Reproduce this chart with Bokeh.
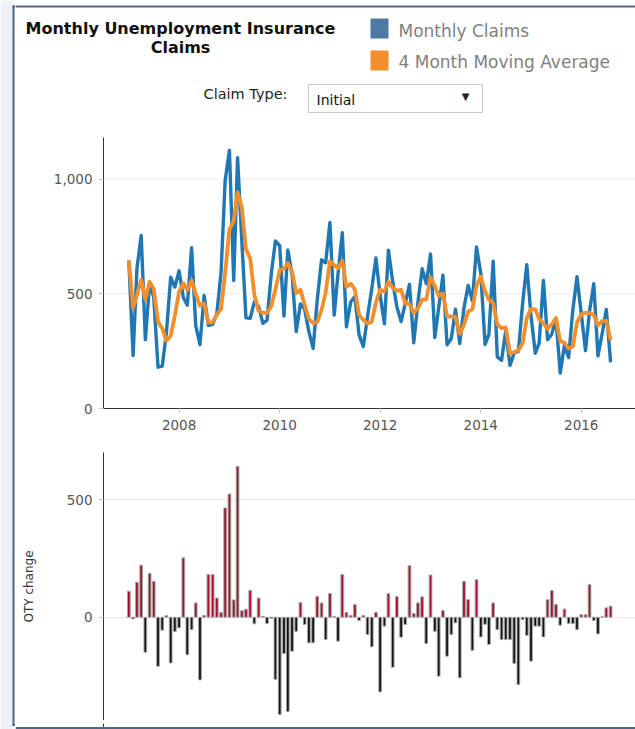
import pandas as pd
from bokeh.plotting import figure
from bokeh.layouts import row, column
from bokeh.models import (Range1d, ColumnDataSource, FixedTicker, NumeralTickFormatter,
                          DatetimeTickFormatter)
from bokeh.core.properties import value
from bokeh.embed import file_html
from bokeh.resources import INLINE

# ---------------- data ----------------
months = pd.date_range("2007-01-01", periods=116, freq="MS")

monthly_claims = [
    645, 231, 610, 754, 300, 545, 485, 180, 185, 330, 572, 529,
    600, 484, 450, 701, 361, 278, 493, 362, 367, 412, 592, 995,
    1125, 558, 1093, 729, 395, 393, 465, 444, 371, 385, 587, 730,
    710, 403, 691, 584, 335, 456, 434, 335, 262, 474, 648, 635,
    811, 407, 589, 766, 356, 464, 488, 321, 270, 400, 522, 656,
    493, 369, 690, 553, 444, 379, 457, 541, 286, 461, 609, 544,
    673, 309, 439, 581, 278, 305, 433, 283, 439, 536, 468, 704,
    589, 279, 323, 642, 225, 210, 338, 188, 242, 249, 458, 627,
    402, 241, 285, 558, 300, 324, 392, 154, 277, 222, 431, 574,
    413, 252, 424, 544, 229, 326, 432, 201,
]

moving_average = [
    645, 438, 495, 560, 474, 552, 521, 378, 349, 295, 317, 404,
    508, 546, 516, 559, 499, 448, 458, 374, 375, 409, 433, 592,
    781, 818, 943, 876, 694, 653, 496, 424, 418, 416, 447, 518,
    603, 608, 634, 597, 503, 517, 452, 390, 372, 376, 430, 505,
    642, 625, 611, 643, 530, 544, 519, 407, 386, 370, 378, 462,
    518, 510, 552, 526, 514, 517, 458, 455, 416, 436, 474, 475,
    572, 534, 491, 501, 402, 401, 399, 325, 365, 423, 432, 537,
    574, 510, 474, 458, 367, 350, 354, 240, 245, 254, 284, 394,
    434, 432, 389, 372, 346, 367, 394, 293, 287, 261, 271, 376,
    410, 418, 416, 408, 362, 381, 383, 297,
]

oty_change = [
    111, -7, 149, 222, -149, 187, 153, -209, -55, 7, -195, -61,
    -45, 253, -160, -53, 61, -267, 8, 182, 182, 82, 20, 466,
    525, 74, 643, 28, 34, 115, -28, 82, 4, -27, -5, -265,
    -415, -155, -402, -145, -60, 63, -31, -109, -109, 89, 61, -95,
    101, 4, -102, 182, 21, 8, 54, -14, 8, -74, -126, 21,
    -318, -38, 101, -213, 88, -85, -31, 220, 16, 61, 87, -112,
    180, -60, -251, 28, -166, -74, -24, -258, 153, 75, -141, 160,
    -84, -30, -116, 61, -53, -95, -95, -95, -197, -287, -10, -77,
    -187, -38, -38, -84, 75, 114, 54, -34, 35, -27, -27, -53,
    11, 11, 139, -14, -71, 2, 40, 47,
]

year_ticks = [2008, 2010, 2012, 2014, 2016]
claims_ticks = [0, 500, 1000]
change_ticks = [0, 500]

# ---------------- styles ----------------
BLUE_LINE = "#1f77b4"
ORANGE_LINE = "#f28e2b"
BLUE_KEY = "#4e79a7"
ORANGE_KEY = "#f28e2b"
RED_BAR = "#a50f2d"
BLACK_BAR = "#111111"
FRAME = "#4a6785"
PAD = "#eef2f6"
FONT = "DejaVu Sans"
TICK_GREY = "#555555"

src = ColumnDataSource(dict(
    month=months,
    claims=monthly_claims,
    avg=moving_average,
    oty=oty_change,
    color=[RED_BAR if v > 0 else BLACK_BAR for v in oty_change],
))

x_range = Range1d(pd.Timestamp("2006-07-01"), pd.Timestamp("2017-01-29"))
tick_ms = [pd.Timestamp(f"{y}-01-01").value // 10**6 for y in year_ticks]

LEFT = 88   # canvas space left of every chart frame (frames start at page x 103)
W = 620     # width of the main column (page x 15..635)
BORDER_Y = (723.5, 725.5)


def base(w, h, **kw):
    p = figure(width=w, height=h, title=None, output_backend="svg", toolbar_location=None,
               tools="", **kw)
    p.outline_line_color = None
    p.background_fill_color = "white"
    p.border_fill_color = "white"
    p.min_border = 0
    return p


def deco(w, h, x0=0.0, y0=0.0):
    # decoration canvas whose coordinates are page pixels (y downwards)
    p = base(w, h, x_range=Range1d(x0, x0 + w), y_range=Range1d(y0 + h, y0),
             x_axis_location=None, y_axis_location=None)
    p.grid.visible = False
    return p


def txt(p, x, y, s, size, color, align="left", bold=False):
    p.text(x=[x], y=[y], text=[s], text_font=value(FONT), text_font_size=size,
           text_font_style="bold" if bold else "normal", text_color=color,
           text_align=align, text_baseline="middle")


# ---------------- left strip (page x 0..15, full height) ----------------
strip = deco(15, 729)
strip.quad(left=0, right=12, top=0, bottom=729, fill_color=PAD, line_color=None)
strip.quad(left=12, right=14, top=5, bottom=BORDER_Y[1], fill_color=FRAME, line_color=None)
strip.quad(left=12, right=15, top=5, bottom=7, fill_color=FRAME, line_color=None)
strip.quad(left=12, right=15, top=BORDER_Y[0], bottom=BORDER_Y[1], fill_color=FRAME, line_color=None)

# ---------------- header (page x 15..635, y 0..130) ----------------
hdr = deco(W, 130, x0=15)
hdr.quad(left=15, right=635, top=5, bottom=7, fill_color=FRAME, line_color=None)

txt(hdr, 180, 28, "Monthly Unemployment Insurance", "16px", "#111111", "center", True)
txt(hdr, 180, 47, "Claims", "16px", "#111111", "center", True)

hdr.quad(left=[370, 370], right=[388, 388], top=[18, 50], bottom=[38, 70],
         fill_color=[BLUE_KEY, ORANGE_KEY], line_color=None)
txt(hdr, 398, 30, "Monthly Claims", "17px", "#7f7f7f")
txt(hdr, 398, 61, "4 Month Moving Average", "17px", "#7f7f7f")

txt(hdr, 287, 93, "Claim Type:", "14.5px", "#222222", "right")
hdr.quad(left=308, right=482, top=84, bottom=112, fill_color="white", line_color="#c8c8c8")
txt(hdr, 316, 99, "Initial", "14px", "#111111")
txt(hdr, 465, 96, "\u25bc", "10px", "#222222", "center")

# ---------------- top chart (page y 130..440) ----------------
p1 = base(W, 310, x_axis_type="datetime", x_range=x_range, y_range=Range1d(0, 1181))
p1.min_border_left = LEFT
p1.min_border_top = 7
p1.min_border_bottom = 32
p1.min_border_right = 0
p1.line(x="month", y="claims", source=src, line_color=BLUE_LINE, line_width=3.4, line_join="round")
p1.line(x="month", y="avg", source=src, line_color=ORANGE_LINE, line_width=3.8, line_join="round")

p1.yaxis.ticker = FixedTicker(ticks=claims_ticks)
p1.yaxis.formatter = NumeralTickFormatter(format="0,0")
p1.xaxis.ticker = FixedTicker(ticks=tick_ms)
p1.xaxis.formatter = DatetimeTickFormatter(years="%Y", months="%Y", days="%Y")
for ax in (p1.xaxis[0], p1.yaxis[0]):
    ax.axis_line_color = "#333333"
    ax.axis_line_width = 1
    ax.major_tick_in = 0
    ax.major_tick_out = 5
    ax.major_tick_line_color = "#cccccc"
    ax.minor_tick_line_color = None
    ax.major_label_text_font = FONT
    ax.major_label_text_font_size = "13.5px"
    ax.major_label_text_color = TICK_GREY
    ax.major_label_standoff = 6
p1.xgrid.visible = False
p1.ygrid.ticker = FixedTicker(ticks=claims_ticks)
p1.ygrid.grid_line_color = "#efefef"

# ---------------- bottom chart (page y 440..720) ----------------
p2 = base(W, 280, x_axis_type="datetime", x_range=x_range, y_range=Range1d(-440, 702),
          x_axis_location=None)
p2.min_border_left = LEFT
p2.min_border_top = 12
p2.min_border_bottom = 0
p2.min_border_right = 0
p2.vbar(x="month", top="oty", width=20 * 86400000, source=src,
        fill_color="color", line_color="#a8a8a8", line_width=1)
ax = p2.yaxis[0]
ax.ticker = FixedTicker(ticks=change_ticks)
ax.axis_line_color = "#333333"
ax.major_tick_in = 0
ax.major_tick_out = 5
ax.major_tick_line_color = "#cccccc"
ax.minor_tick_line_color = None
ax.major_label_text_font = FONT
ax.major_label_text_font_size = "13.5px"
ax.major_label_text_color = TICK_GREY
ax.major_label_standoff = 6
ax.axis_label = "OTY change"
ax.axis_label_text_font = FONT
ax.axis_label_text_font_size = "12px"
ax.axis_label_text_font_style = "normal"
ax.axis_label_text_color = "#333333"
ax.axis_label_standoff = 28
p2.xgrid.visible = False
p2.ygrid.ticker = FixedTicker(ticks=change_ticks)
p2.ygrid.grid_line_color = "#e6e6e6"

# ---------------- bottom border (page x 15..635, y 720..729) ----------------
bot = deco(W, 9, x0=15, y0=720)
bot.quad(left=[15, 102.5], right=[635, 103.5], top=[BORDER_Y[0], 720], bottom=[BORDER_Y[1], BORDER_Y[0]],
         fill_color=[FRAME, "#333333"], line_color=None)

layout = row(strip, column(hdr, row(column(p1, p2)), bot))

open("out.html", "w").write(file_html(layout, INLINE))
